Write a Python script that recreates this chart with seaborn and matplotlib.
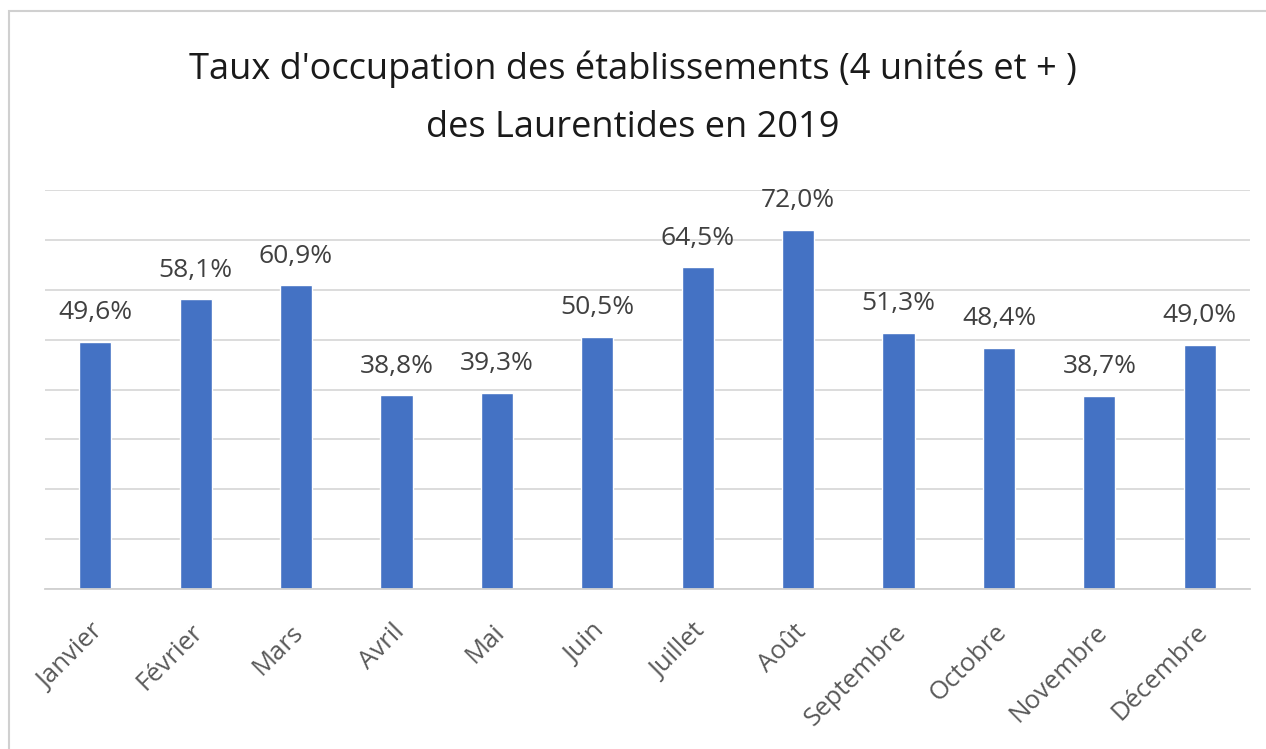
import matplotlib
matplotlib.use("Agg")
import matplotlib.pyplot as plt
import seaborn as sns
import pandas as pd
from matplotlib.patches import Rectangle
from matplotlib.transforms import ScaledTranslation

months = ["Janvier", "Février", "Mars", "Avril", "Mai", "Juin", "Juillet",
          "Août", "Septembre", "Octobre", "Novembre", "Décembre"]
rates = [49.6, 58.1, 60.9, 38.8, 39.3, 50.5, 64.5, 72.0, 51.3, 48.4, 38.7, 49.0]
labels = ["49,6%", "58,1%", "60,9%", "38,8%", "39,3%", "50,5%", "64,5%",
          "72,0%", "51,3%", "48,4%", "38,7%", "49,0%"]
title_lines = ["Taux d'occupation des établissements (4 unités et + )",
               "des Laurentides en 2019"]

sns.set_theme(style="white")
plt.rcParams['font.family'] = ['Open Sans', 'DejaVu Sans']

df = pd.DataFrame({"mois": months, "taux": rates})

W, H = 1266, 749
fig = plt.figure(figsize=(W / 100, H / 100), dpi=100)
fig.patch.set_facecolor("white")

# outer chart border (only left and top visible in the reference)
fig.patches.append(Rectangle((9 / W, -0.1), 1.2, 1 - 11 / H + 0.1,
                             transform=fig.transFigure, fill=False,
                             edgecolor="#D0D0D0", linewidth=1.5))

ax = fig.add_axes([45 / W, 1 - 589 / H, (1250 - 45) / W, (589 - 190) / H])
sns.barplot(data=df, x="mois", y="taux", color="#4472C4", width=0.32,
            saturation=1, ax=ax)
ax.set_ylim(0, 80)
ax.set_xlim(-0.5, len(months) - 0.5)
ax.set_yticks(range(0, 81, 10))
ax.yaxis.grid(True, color="#D9D9D9", linewidth=1.3)
ax.set_axisbelow(True)
ax.tick_params(axis="y", left=False, labelleft=False)
ax.tick_params(axis="x", bottom=False, pad=16)
for s in ["top", "right", "left"]:
    ax.spines[s].set_visible(False)
ax.spines["bottom"].set_color("#D0D0D0")
ax.spines["bottom"].set_linewidth(1.3)
ax.set_xlabel("")
ax.set_ylabel("")
ax.set_xticks(range(len(months)))
ax.set_xticklabels(months, rotation=45, ha="right", va="top",
                   rotation_mode="anchor", fontsize=18.5, color="#595959")
shift = ScaledTranslation(-5 / 100, 0, fig.dpi_scale_trans)
for t in ax.get_xticklabels():
    t.set_transform(t.get_transform() + shift)

for i, (v, lab) in enumerate(zip(rates, labels)):
    ax.annotate(lab, (i, v), xytext=(0, 12), textcoords="offset points",
                ha="center", va="bottom", fontsize=19, color="#404040")

fig.text(0.5, 1 - 79 / H, title_lines[0], ha="center", va="baseline",
         fontsize=26, color="#1a1a1a")
fig.text(0.5, 1 - 137 / H, title_lines[1], ha="center", va="baseline",
         fontsize=26, color="#1a1a1a")

fig.savefig("out.png", dpi=100, facecolor="white")
